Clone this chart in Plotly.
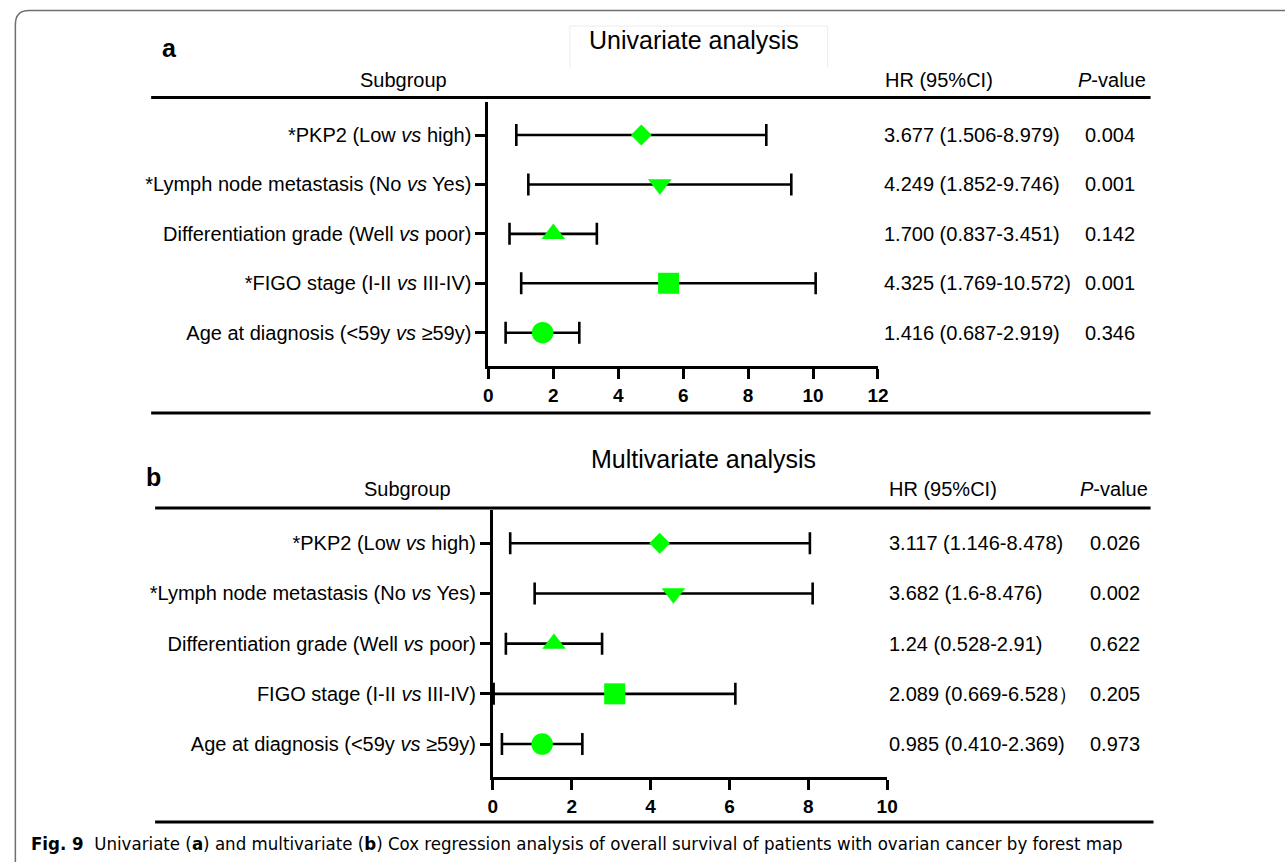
import plotly.graph_objects as go

W, H = 1285, 862


def px(x):
    return x / W


def py(y):
    return 1 - y / H


# ---------------- data ----------------
rows = [5, 4, 3, 2, 1]
labels_uni = [
    "*PKP2 (Low <i>vs</i> high)",
    "*Lymph node metastasis (No <i>vs</i> Yes)",
    "Differentiation grade (Well <i>vs</i> poor)",
    "*FIGO stage (I-II <i>vs</i> III-IV)",
    "Age at diagnosis (&lt;59y <i>vs</i> ≥59y)",
]
labels_multi = [
    "*PKP2 (Low <i>vs</i> high)",
    "*Lymph node metastasis (No <i>vs</i> Yes)",
    "Differentiation grade (Well <i>vs</i> poor)",
    "FIGO stage (I-II <i>vs</i> III-IV)",
    "Age at diagnosis (&lt;59y <i>vs</i> ≥59y)",
]
symbols = ["diamond", "triangle-down", "triangle-up", "square", "circle"]

# plotted point estimates / CI ends (as drawn in the figure)
uni_hr = [4.71, 5.28, 2.00, 5.55, 1.67]
uni_lo = [0.86, 1.23, 0.65, 1.01, 0.53]
uni_hi = [8.56, 9.33, 3.34, 10.08, 2.80]
uni_hr_text = ["3.677 (1.506-8.979)", "4.249 (1.852-9.746)", "1.700 (0.837-3.451)",
               "4.325 (1.769-10.572)", "1.416 (0.687-2.919)"]
uni_p = ["0.004", "0.001", "0.142", "0.001", "0.346"]

multi_hr = [4.23, 4.58, 1.55, 3.09, 1.25]
multi_lo = [0.44, 1.06, 0.33, 0.02, 0.23]
multi_hi = [8.04, 8.11, 2.77, 6.15, 2.27]
multi_hr_text = ["3.117 (1.146-8.478)", "3.682 (1.6-8.476)", "1.24 (0.528-2.91)",
                 "2.089 (0.669-6.528\uff09", "0.985 (0.410-2.369)"]
multi_p = ["0.026", "0.002", "0.622", "0.205", "0.973"]

uni_ticks = [0, 2, 4, 6, 8, 10, 12]
multi_ticks = [0, 2, 4, 6, 8, 10]

# ---------------- style ----------------
GREEN = "#00ff00"
FONT = "Liberation Sans, Arial, sans-serif"
sizes = [16, 20.5, 20.5, 21, 21.5]

fig = go.Figure()


def add_panel(hr, lo, hi, xa, ya):
    fig.add_trace(go.Scatter(
        x=hr, y=rows, mode="markers", xaxis=xa, yaxis=ya,
        marker=dict(symbol=symbols, size=sizes, color=GREEN, opacity=1,
                    line=dict(width=0, color=GREEN)),
        error_x=dict(type="data", symmetric=False,
                     array=[h - m for h, m in zip(hi, hr)],
                     arrayminus=[m - l for m, l in zip(hr, lo)],
                     color="black", thickness=2.6, width=11),
        cliponaxis=False, showlegend=False, hoverinfo="skip",
    ))


add_panel(uni_hr, uni_lo, uni_hi, "x", "y")
add_panel(multi_hr, multi_lo, multi_hi, "x2", "y2")

axis_common = dict(showline=True, linewidth=3, linecolor="black", ticks="outside",
                   ticklen=10, tickwidth=3, tickcolor="black", showgrid=False,
                   zeroline=False, fixedrange=True)

fig.update_layout(
    width=W, height=H, margin=dict(l=0, r=0, t=0, b=0),
    paper_bgcolor="white", plot_bgcolor="rgba(0,0,0,0)",
    font=dict(family=FONT, color="black", size=20),
    xaxis=dict(domain=[px(489.5), px(884)], range=[0, 12], tickvals=uni_ticks,
               anchor="y", tickfont=dict(size=19, weight="bold", family=FONT),
               **axis_common),
    yaxis=dict(domain=[py(366), py(101.7)], range=[0.326, 5.674], tickvals=rows,
               ticktext=labels_uni, anchor="x", tickfont=dict(size=20, family=FONT),
               **axis_common),
    xaxis2=dict(domain=[px(494), px(893.3)], range=[0, 10], tickvals=multi_ticks,
                anchor="y2", tickfont=dict(size=19, weight="bold", family=FONT),
                **axis_common),
    yaxis2=dict(domain=[py(776.7), py(510)], range=[0.349, 5.663], tickvals=rows,
                ticktext=labels_multi, anchor="x2", tickfont=dict(size=20, family=FONT),
                **axis_common),
)

ann = []


def text(x, y, s, size=20, xanchor="center", yanchor="middle", yref="paper", family=FONT):
    ann.append(dict(x=px(x), y=(py(y) if yref == "paper" else y), xref="paper", yref=yref,
                    text=s, showarrow=False, xanchor=xanchor, yanchor=yanchor,
                    font=dict(size=size, family=family, color="black")))


# Panel a
text(157, 48, "<b>a</b>", size=25, xanchor="left")
text(698, 40, "Univariate analysis", size=25)
text(404, 80, "Subgroup")
text(946, 80, "HR (95%CI)")
text(1121, 80, "<i>P</i>-value")
for r, h, p in zip(rows, uni_hr_text, uni_p):
    text(888, r, h, xanchor="left", yref="y")
    text(1092, r, p, xanchor="left", yref="y")

# Panel b
text(141, 477, "<b>b</b>", size=25, xanchor="left")
text(707, 459, "Multivariate analysis", size=25)
text(408, 489, "Subgroup")
text(950, 489, "HR (95%CI)")
text(1123, 489, "<i>P</i>-value")
for r, h, p in zip(rows, multi_hr_text, multi_p):
    text(893, r, h, xanchor="left", yref="y2")
    text(1097, r, p, xanchor="left", yref="y2")

# Caption
text(24, 843,
     "<b>Fig.\u00a09</b>\u00a0\u00a0Univariate (<b>a</b>) and multivariate (<b>b</b>) Cox regression "
     "analysis of overall survival of patients with ovarian cancer by forest map",
     size=18.5, xanchor="left",
     family="Liberation Sans Narrow, DejaVu Sans Condensed, Open Sans, sans-serif")

fig.update_layout(annotations=ann)

shapes = []


def hline(x0, x1, y, w=3, color="black"):
    shapes.append(dict(type="line", xref="paper", yref="paper", x0=px(x0), x1=px(x1),
                       y0=py(y), y1=py(y), line=dict(color=color, width=w)))


hline(148, 1160, 97.5)
hline(148, 1160, 413)
hline(152, 1160, 508)
hline(152, 1163, 822)


def P(x, y):
    return f"{px(x)},{py(y)}"


# faint box around the first title
shapes.append(dict(type="path", xref="paper", yref="paper",
                   path=f"M{P(572, 68)} L{P(572, 26)} L{P(833, 26)} L{P(833, 68)}",
                   line=dict(color="#ececec", width=1)))

# rounded outer frame (left/top visible)
r = 14
frame = (f"M{P(10.5, 866)} L{P(10.5, 10.5 + r)} Q{P(10.5, 10.5)} {P(10.5 + r, 10.5)} "
         f"L{P(1300, 10.5)}")
shapes.append(dict(type="path", xref="paper", yref="paper", path=frame,
                   line=dict(color="#6f6f6f", width=1.5)))

fig.update_layout(shapes=shapes)

fig.write_html("out.html")
